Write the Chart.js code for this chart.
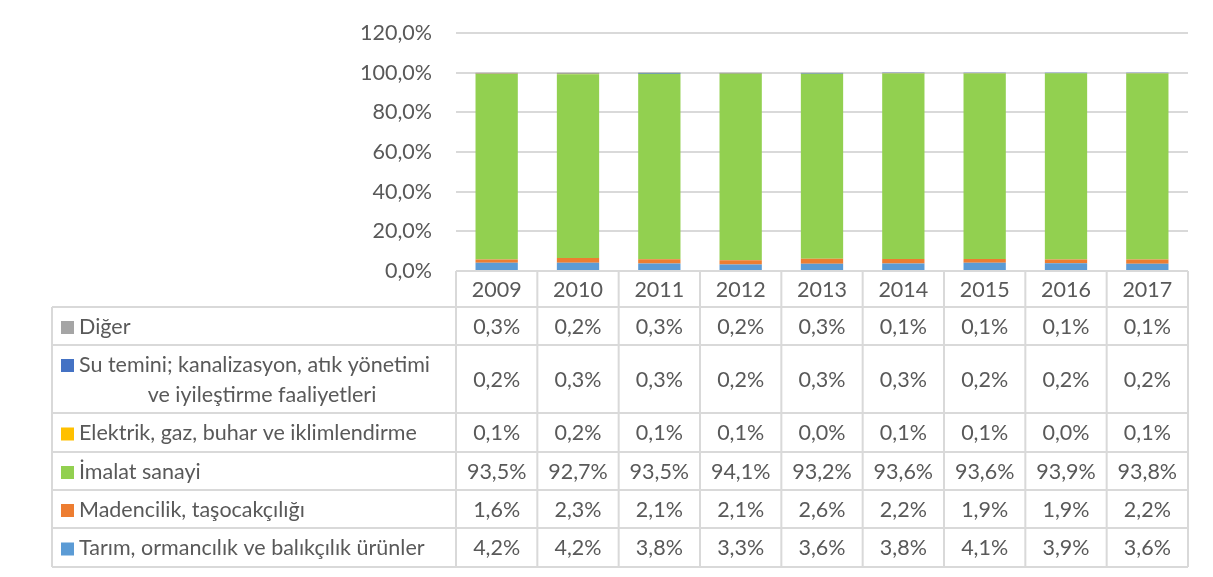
<!DOCTYPE html>
<html>
<head>
<meta charset="utf-8">
<script src="https://cdn.jsdelivr.net/npm/chart.js@4"></script>
<style>
  html, body { margin: 0; padding: 0; background: #ffffff; }
  #wrap { width: 1213px; height: 577px; position: relative; }
</style>
</head>
<body>
<div id="wrap"><canvas id="sectorChart" width="1213" height="577"></canvas></div>
<script>
// Categories and series (stack order bottom -> top)
const years = ['2009', '2010', '2011', '2012', '2013', '2014', '2015', '2016', '2017'];

const tarim      = [4.2, 4.2, 3.8, 3.3, 3.6, 3.8, 4.1, 3.9, 3.6];
const madencilik = [1.6, 2.3, 2.1, 2.1, 2.6, 2.2, 1.9, 1.9, 2.2];
const imalat     = [93.5, 92.7, 93.5, 94.1, 93.2, 93.6, 93.6, 93.9, 93.8];
const elektrik   = [0.1, 0.2, 0.1, 0.1, 0.0, 0.1, 0.1, 0.0, 0.1];
const suTemini   = [0.2, 0.3, 0.3, 0.2, 0.3, 0.3, 0.2, 0.2, 0.2];
const diger      = [0.3, 0.2, 0.3, 0.2, 0.3, 0.1, 0.1, 0.1, 0.1];

const yTicks = [0, 20, 40, 60, 80, 100, 120];

const textColor = '#595959';
const lineColor = '#D9D9D9';
const fontFamily = 'Lato, "Liberation Sans", sans-serif';
const fontSize = 21.5;

// Series in table order (top row first)
const series = [
    { label: 'Diğer', lines: ['Diğer'], data: diger, color: '#A5A5A5' },
    { label: 'Su temini; kanalizasyon, atık yönetimi ve iyileştirme faaliyetleri',
      lines: ['Su temini; kanalizasyon, atık yönetimi', 've iyileştirme faaliyetleri'],
      data: suTemini, color: '#4472C4' },
    { label: 'Elektrik, gaz, buhar ve iklimlendirme', lines: ['Elektrik, gaz, buhar ve iklimlendirme'], data: elektrik, color: '#FFC000' },
    { label: 'İmalat sanayi', lines: ['İmalat sanayi'], data: imalat, color: '#92D050' },
    { label: 'Madencilik, taşocakçılığı', lines: ['Madencilik, taşocakçılığı'], data: madencilik, color: '#ED7D31' },
    { label: 'Tarım, ormancılık ve balıkçılık ürünler', lines: ['Tarım, ormancılık ve balıkçılık ürünler'], data: tarim, color: '#5B9BD5' }
];

const headerHeight = 36;
const rowHeights = [38, 68, 39, 38, 38, 39];
const tableLeft = 52;

function pct(v) {
    return v.toFixed(1).replace('.', ',') + '%';
}

// Draws the data table under the plot area
const dataTablePlugin = {
    id: 'dataTable',
    afterDraw(chart) {
        const { ctx, chartArea } = chart;
        const xScale = chart.scales.x;
        const colW = (chartArea.right - chartArea.left) / years.length;
        const top = chartArea.bottom;
        const headerBottom = top + headerHeight;
        const totalH = rowHeights.reduce((a, b) => a + b, 0);
        const bottom = headerBottom + totalH;

        ctx.save();
        ctx.strokeStyle = lineColor;
        ctx.lineWidth = 2;

        // horizontal lines
        ctx.beginPath();
        ctx.moveTo(chartArea.left, top);
        ctx.lineTo(chartArea.right, top);
        let y = headerBottom;
        ctx.moveTo(tableLeft, y);
        ctx.lineTo(chartArea.right, y);
        rowHeights.forEach(h => {
            y += h;
            ctx.moveTo(tableLeft, y);
            ctx.lineTo(chartArea.right, y);
        });
        // vertical lines
        for (let i = 0; i <= years.length; i++) {
            const x = chartArea.left + i * colW;
            ctx.moveTo(x, top);
            ctx.lineTo(x, bottom);
        }
        ctx.moveTo(tableLeft, headerBottom);
        ctx.lineTo(tableLeft, bottom);
        ctx.stroke();

        ctx.fillStyle = textColor;
        ctx.font = fontSize + 'px ' + fontFamily;
        ctx.textBaseline = 'middle';
        ctx.textAlign = 'center';

        // header
        years.forEach((yr, i) => {
            ctx.fillText(yr, xScale.getPixelForValue(i), top + headerHeight / 2 + 1);
        });

        // rows
        let rowTop = headerBottom;
        series.forEach((s, r) => {
            const h = rowHeights[r];
            const cy = rowTop + h / 2 + 1;
            s.data.forEach((v, i) => {
                ctx.textAlign = 'center';
                ctx.fillStyle = textColor;
                ctx.fillText(pct(v), xScale.getPixelForValue(i), cy);
            });
            const lineGap = 30;
            const firstY = cy - (s.lines.length - 1) * lineGap / 2;
            // legend key
            ctx.fillStyle = s.color;
            ctx.fillRect(61, firstY - 6, 13, 13);
            ctx.fillStyle = textColor;
            ctx.textAlign = 'left';
            ctx.fillText(s.lines[0], 79, firstY);
            for (let k = 1; k < s.lines.length; k++) {
                ctx.textAlign = 'center';
                ctx.fillText(s.lines[k], 262, firstY + k * lineGap);
            }
            rowTop += h;
        });
        ctx.restore();
    }
};

const stacked = series.slice().reverse();

new Chart(document.getElementById('sectorChart'), {
    type: 'bar',
    data: {
        labels: years,
        datasets: stacked.map(s => ({
            label: s.label,
            data: s.data,
            backgroundColor: s.color,
            borderWidth: 0,
            categoryPercentage: 0.52,
            barPercentage: 1
        }))
    },
    options: {
        responsive: false,
        animation: false,
        layout: {
            padding: { left: 0, right: 25, top: 33, bottom: 306 }
        },
        plugins: {
            legend: { display: false },
            tooltip: { enabled: false }
        },
        scales: {
            x: {
                stacked: true,
                display: false
            },
            y: {
                stacked: true,
                min: 0,
                max: 120,
                afterBuildTicks: scale => {
                    scale.ticks = yTicks.map(v => ({ value: v }));
                },
                afterFit: scale => {
                    scale.width = 456;
                    scale.paddingTop = 0;
                    scale.paddingBottom = 0;
                },
                border: { display: false },
                grid: {
                    color: lineColor,
                    lineWidth: 2,
                    drawTicks: false
                },
                ticks: {
                    color: textColor,
                    padding: 24,
                    font: { family: fontFamily, size: fontSize },
                    callback: v => pct(v)
                }
            }
        }
    },
    plugins: [dataTablePlugin]
});
</script>
</body>
</html>
